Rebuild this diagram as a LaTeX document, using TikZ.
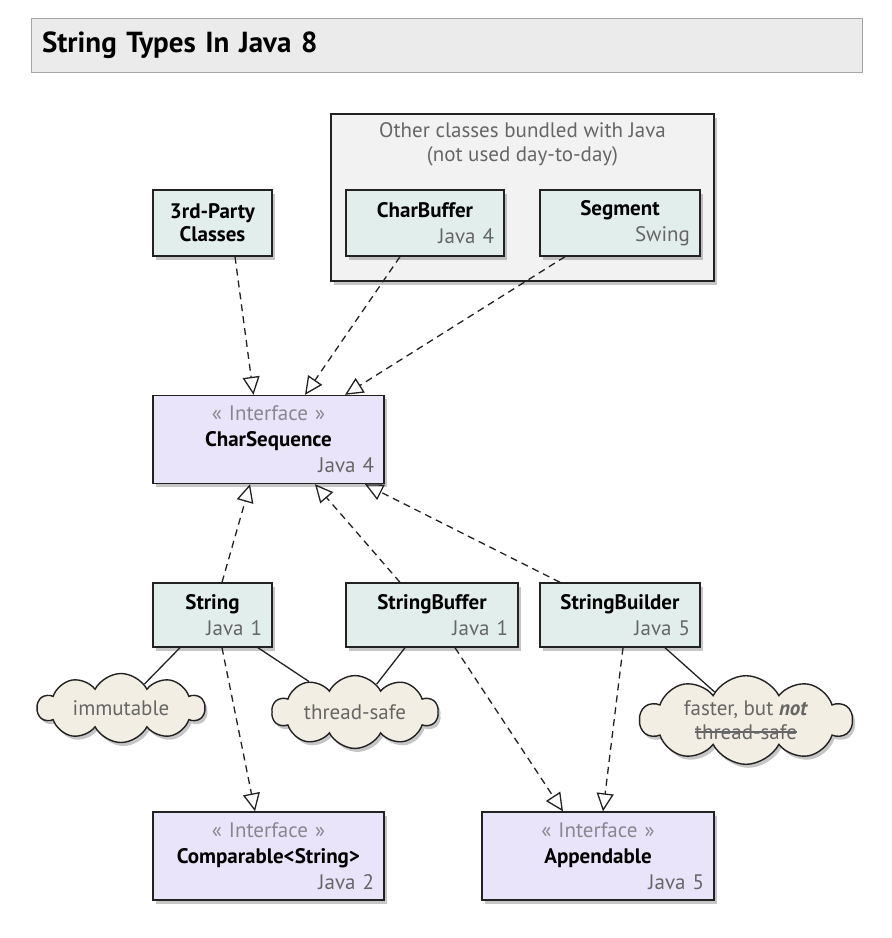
\documentclass[tikz,border=0pt]{standalone}
\usepackage{fontspec}
\setmainfont{PT Sans}
\usepackage{tikz}
\usetikzlibrary{positioning,shapes.symbols,arrows.meta,shadows}
\definecolor{clsfill}{HTML}{E2EEEC}
\definecolor{ifcfill}{HTML}{E9E4F9}
\definecolor{notefill}{HTML}{F3EEE3}
\definecolor{grpfill}{HTML}{F2F2F2}
\definecolor{titlefill}{HTML}{EBEBEB}
\definecolor{vergray}{HTML}{666666}
\definecolor{stereo}{HTML}{8A8690}
\definecolor{edge}{HTML}{222222}
\tikzset{
    boxshadow/.style={
        drop shadow={opacity=0.45, shadow xshift=2.5pt, shadow yshift=-3.5pt}
    },
    class/.style={
        rectangle,
        draw=edge,
        line width=1.4pt,
        fill=clsfill,
        boxshadow,
        text width=#1,
        inner xsep=10pt,
        minimum height=64pt,
        align=center,
        font=\fontsize{21}{26}\selectfont
    },
    iface/.style={
        class=#1,
        fill=ifcfill,
        minimum height=88pt
    },
    note/.style={
        cloud,
        cloud puffs=10,
        cloud puff arc=125,
        aspect=3,
        draw=edge,
        line width=1.4pt,
        fill=notefill,
        boxshadow,
        inner sep=0pt,
        text=vergray,
        align=center,
        font=\fontsize{21}{24}\selectfont
    },
    realize/.style={
        dash pattern=on 7pt off 5pt,
        line width=1.3pt,
        draw=edge,
        -{Triangle[open, length=18pt, width=17pt, line width=1.3pt]}
    },
    link/.style={
        line width=1.3pt,
        draw=edge
    }
}
\newcommand{\ver}[1]{\\\hfill\textcolor{vergray}{#1}}
\newcommand{\stereotype}{\textcolor{stereo}{\guillemotleft{} Interface \guillemotright}\\}
\newcommand{\strk}[1]{\setbox0\hbox{#1}\rlap{\raisebox{0.32em}{\rule{\wd0}{1.2pt}}}\box0}
\begin{document}
\begin{tikzpicture}[x=1pt, y=-1pt]
    \useasboundingbox (0,0) rectangle (892,938);
    % title bar
    \node (title) [rectangle, draw=gray!70, line width=1pt, fill=titlefill, minimum height=54pt,
        text width=809pt, inner xsep=11pt, align=left, font=\fontsize{29}{32}\selectfont\bfseries]
        at (446.5,45) {String Types In Java 8};
    % bundled classes
    \node (bundled) [rectangle, draw=edge, line width=1.4pt, fill=grpfill, boxshadow,
        minimum width=383pt, minimum height=167pt,
        label={[anchor=north, yshift=-6pt, text=vergray, align=center,
            font=\fontsize{21}{24}\selectfont]north:Other classes bundled with Java\\(not used day-to-day)}]
        at (522.5,197.5) {};
    \node (third) [class=99pt, minimum height=66pt] at (212.5,223) {\textbf{3rd-Party}\\[-3pt]\textbf{Classes}};
    \node (charbuf) [class=138pt, minimum height=66pt] at (425,223) {\textbf{CharBuffer}\ver{Java 4}};
    \node (segment) [class=140pt, minimum height=66pt] at (620,223) {\textbf{Segment}\ver{Swing}};
    % interfaces
    \node (charseq) [iface=211pt] at (268.5,439.5) {\stereotype\textbf{CharSequence}\ver{Java 4}};
    \node (compar) [iface=211pt] at (268.5,856) {\stereotype\textbf{Comparable<String>}\ver{Java 2}};
    \node (append) [iface=212pt] at (598,856) {\stereotype\textbf{Appendable}\ver{Java 5}};
    % string classes
    \node (string) [class=99pt] at (212.5,615) {\textbf{String}\ver{Java 1}};
    \node (strbuf) [class=152pt] at (432,615) {\textbf{StringBuffer}\ver{Java 1}};
    \node (strbld) [class=140pt] at (620,615) {\textbf{StringBuilder}\ver{Java 5}};
    % notes
    \node (immut) [note, minimum width=167pt, minimum height=56pt] at (121,708) {immutable};
    \node (tsafe) [note, minimum width=166pt, minimum height=56pt] at (355,712) {thread-safe};
    \node (faster) [note, minimum width=212pt, minimum height=82pt] at (746,720)
        {faster, but \textbf{\textit{not}}\\\strk{thread-safe}};
    % realizations
    \draw [realize] ([shift={(22.5,0)}]third.south) -- ([shift={(-15,0)}]charseq.north);
    \draw [realize] ([shift={(-25,0)}]charbuf.south) -- ([shift={(36.5,0)}]charseq.north);
    \draw [realize] ([shift={(-55,0)}]segment.south) -- ([shift={(76.5,0)}]charseq.north);
    \draw [realize] ([shift={(9.5,0)}]string.north) -- ([shift={(-18.5,0)}]charseq.south);
    \draw [realize] ([shift={(-32,0)}]strbuf.north) -- ([shift={(46.5,0)}]charseq.south);
    \draw [realize] ([shift={(-60,0)}]strbld.north) -- ([shift={(96.5,0)}]charseq.south);
    \draw [realize] ([shift={(9.5,0)}]string.south) -- ([shift={(-13.5,0)}]compar.north);
    \draw [realize] ([shift={(23,0)}]strbuf.south) -- ([shift={(-35,0)}]append.north);
    \draw [realize] ([shift={(3,0)}]strbld.south) -- ([shift={(5,0)}]append.north);
    % note links
    \draw [link] ([shift={(-32.5,0)}]string.south) -- (immut);
    \draw [link] ([shift={(45.5,0)}]string.south) -- (tsafe);
    \draw [link] ([shift={(-27,0)}]strbuf.south) -- (tsafe);
    \draw [link] ([shift={(45,0)}]strbld.south) -- (faster);
\end{tikzpicture}
\end{document}
